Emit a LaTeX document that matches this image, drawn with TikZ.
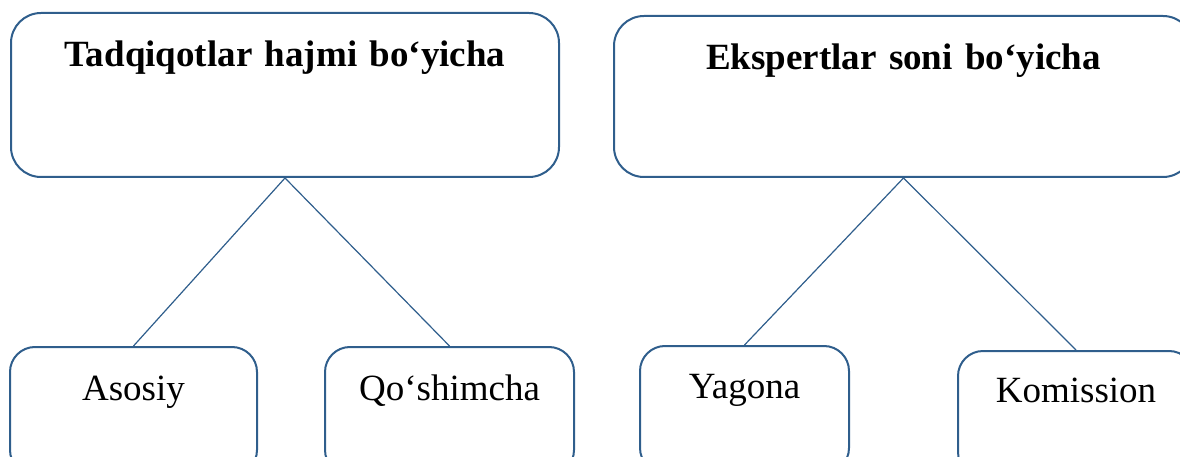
\documentclass[tikz,border=0pt]{standalone}
\usepackage{fontspec}
\setmainfont{Liberation Serif}
\usetikzlibrary{positioning}

\definecolor{boxblue}{HTML}{2F5E8C}

\tikzset{
  catbox/.style={draw=boxblue, line width=2pt, rounded corners=30pt,
    inner sep=0pt, align=center, text height=54pt,
    font=\fontsize{37}{44}\selectfont\bfseries},
  subbox/.style={draw=boxblue, line width=2pt, rounded corners=25pt,
    inner sep=0pt, align=center, text height=53pt, text depth=75pt,
    font=\fontsize{37}{44}\selectfont},
  branch/.style={draw=boxblue, line width=1.2pt},
}

\begin{document}
\begin{tikzpicture}[x=1pt, y=-1pt]

\useasboundingbox (0,0) rectangle (1180,457);
\clip (0,0) rectangle (1180,457);

% Define nodes
\node[catbox, anchor=north west, text width=548pt, text depth=110pt]
  (hajm) at (10,12) {Tadqiqotlar hajmi bo‘yicha};
\node[catbox, anchor=north west, text width=579pt, text depth=107pt]
  (ekspert) at (613,15) {Ekspertlar soni bo‘yicha};

\node[subbox, anchor=north west, text width=247pt] (asosiy) at (9,346) {Asosiy};
\node[subbox, anchor=north west, text width=249pt] (qoshimcha) at (324,346) {Qo‘shimcha};
\node[subbox, anchor=north west, text width=209pt, text height=52pt] (yagona) at (639,345) {Yagona};
\node[subbox, anchor=north west, text width=236pt, text height=51pt] (komissiya) at (957,350) {Komission};

% Branches
\draw[branch] (hajm.south) -- (asosiy.north);
\draw[branch] (hajm.south) -- (qoshimcha.north);
\draw[branch] (ekspert.south) -- (yagona.north);
\draw[branch] (ekspert.south) -- (komissiya.north);

\end{tikzpicture}
\end{document}
